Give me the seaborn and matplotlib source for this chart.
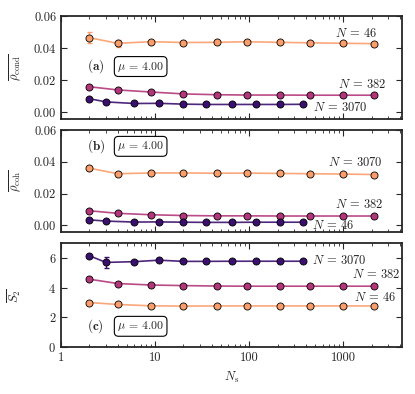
import matplotlib
matplotlib.use("Agg")
import matplotlib.pyplot as plt
import matplotlib.ticker as ticker
import seaborn as sns
import numpy as np
import pandas as pd

# Sample sizes (x) for each system size
NS_SMALL = [2, 4, 9, 20, 45, 95, 210, 445, 980, 2090]     # N = 46 and N = 382
NS_LARGE = [2, 3, 6, 11, 20, 35, 66, 118, 210, 376]       # N = 3070

# (a) mean rho_cond
COND_46 = [0.0465, 0.0430, 0.0440, 0.0435, 0.0436, 0.0440, 0.0436, 0.0433, 0.0430, 0.0428]
COND_382 = [0.0158, 0.0138, 0.0125, 0.0113, 0.0108, 0.0106, 0.0106, 0.0105, 0.0105, 0.0105]
COND_3070 = [0.0083, 0.0063, 0.0053, 0.0054, 0.0049, 0.0047, 0.0047, 0.0047, 0.0047, 0.0048]
COND_46_ERR = [0.0035, 0.0022, 0, 0, 0, 0, 0, 0, 0, 0]

# (b) mean rho_coh
COH_46 = [0.0035, 0.0027, 0.0021, 0.0022, 0.0020, 0.0019, 0.0019, 0.0020, 0.0020, 0.0020]
COH_382 = [0.0092, 0.0076, 0.0067, 0.0062, 0.0060, 0.0060, 0.0059, 0.0059, 0.0059, 0.0059]
COH_3070 = [0.0360, 0.0325, 0.0330, 0.0330, 0.0328, 0.0329, 0.0327, 0.0325, 0.0323, 0.0320]

# (c) mean S_2
S2_46 = [3.00, 2.87, 2.78, 2.76, 2.77, 2.77, 2.77, 2.77, 2.77, 2.77]
S2_382 = [4.57, 4.28, 4.18, 4.14, 4.11, 4.10, 4.10, 4.10, 4.10, 4.10]
S2_3070 = [6.15, 5.70, 5.75, 5.85, 5.77, 5.77, 5.78, 5.78, 5.78, 5.78]
S2_3070_ERR = [0, 0.35, 0, 0, 0, 0, 0, 0, 0, 0]

sns.set_style("ticks")
plt.rcParams["font.family"] = ["cmr10", "DejaVu Serif"]
plt.rcParams["mathtext.fontset"] = "cm"
plt.rcParams["axes.formatter.use_mathtext"] = True
plt.rcParams["font.size"] = 9

C_ORANGE = "#fc9e6b"
C_PINK = "#b3367b"
C_PURPLE = "#3b0f6f"

fig = plt.figure(figsize=(4.15, 3.94), dpi=100)
left, width = 0.147, 0.822
ax_a = fig.add_axes([left, 0.698, width, 0.261])
ax_b = fig.add_axes([left, 0.411, width, 0.259])
ax_c = fig.add_axes([left, 0.119, width, 0.264])


def draw(ax, x, y, color, err=None, zorder=3):
    df = pd.DataFrame({"x": x, "y": y})
    sns.lineplot(data=df, x="x", y="y", color=color, lw=1.2, alpha=0.9, ax=ax,
                 zorder=zorder, legend=False)
    sns.scatterplot(data=df, x="x", y="y", color=color, edgecolor="black",
                    linewidth=0.6, s=26, ax=ax, zorder=zorder + 1, legend=False)
    if err is not None:
        e = np.array(err)
        m = e > 0
        ax.errorbar(np.array(x)[m], np.array(y)[m], yerr=e[m], fmt="none",
                    ecolor=color, elinewidth=1, capsize=1.8, zorder=zorder)


# (a)
draw(ax_a, NS_SMALL, COND_46, C_ORANGE, COND_46_ERR)
draw(ax_a, NS_SMALL, COND_382, C_PINK)
draw(ax_a, NS_LARGE, COND_3070, C_PURPLE)
ax_a.set_ylim(-0.0044, 0.06)
ax_a.set_yticks([0.00, 0.02, 0.04, 0.06])
ax_a.yaxis.set_major_formatter(ticker.FormatStrFormatter("%.2f"))
ax_a.set_ylabel(r"$\overline{\rho_{\rm cond}}$")
ax_a.text(822, 0.0494, r"$N$ = 46", va="center", fontsize=9)
ax_a.text(885, 0.0169, r"$N$ = 382", va="center", fontsize=9)
ax_a.text(479, 0.0031, r"$N$ = 3070", va="center", fontsize=9)

# (b)
draw(ax_b, NS_SMALL, COH_3070, C_ORANGE)
draw(ax_b, NS_SMALL, COH_382, C_PINK)
draw(ax_b, NS_LARGE, COH_46, C_PURPLE)
ax_b.set_ylim(-0.0042, 0.06)
ax_b.set_yticks([0.00, 0.02, 0.04, 0.06])
ax_b.yaxis.set_major_formatter(ticker.FormatStrFormatter("%.2f"))
ax_b.set_ylabel(r"$\overline{\rho_{\rm coh}}$")
ax_b.text(692, 0.0397, r"$N$ = 3070", va="center", fontsize=9)
ax_b.text(822, 0.0129, r"$N$ = 382", va="center", fontsize=9)
ax_b.text(468, 0.0002, r"$N$ = 46", va="center", fontsize=9)

# (c)
draw(ax_c, NS_SMALL, S2_46, C_ORANGE)
draw(ax_c, NS_SMALL, S2_382, C_PINK)
draw(ax_c, NS_LARGE, S2_3070, C_PURPLE, S2_3070_ERR)
ax_c.set_ylim(0, 7)
ax_c.set_yticks([0, 2, 4, 6])
ax_c.set_ylabel(r"$\overline{S_2}$")
ax_c.set_xlabel(r"$N_{\rm s}$")
ax_c.text(468, 5.8, r"$N$ = 3070", va="center", fontsize=9)
ax_c.text(1247, 4.91, r"$N$ = 382", va="center", fontsize=9)
ax_c.text(1310, 3.36, r"$N$ = 46", va="center", fontsize=9)

box = dict(boxstyle="round,pad=0.25,rounding_size=0.35", fc="white", ec="black", lw=0.8)
for ax, lab, ypos in [(ax_a, "a", 0.51), (ax_b, "b", 0.84), (ax_c, "c", 0.20)]:
    ax.text(0.076, ypos, r"$\mathbf{(" + lab + ")}$", transform=ax.transAxes,
            va="center", fontsize=9.5)
    ax.text(0.165, ypos, r"$\mu$ = 4.00", transform=ax.transAxes, va="center",
            fontsize=8.5, bbox=box)

for ax in (ax_a, ax_b, ax_c):
    ax.set_xscale("log")
    ax.set_xlim(1, 4200)
    ax.tick_params(which="both", direction="in", top=True, right=True, labelsize=9)
    ax.tick_params(which="major", length=4)
    ax.tick_params(which="minor", length=2)
    ax.xaxis.set_major_locator(ticker.LogLocator(base=10, numticks=10))
    ax.xaxis.set_minor_locator(ticker.LogLocator(base=10, subs=np.arange(2, 10), numticks=20))
    ax.xaxis.set_minor_formatter(ticker.NullFormatter())
    for s in ax.spines.values():
        s.set_linewidth(1.3)
    if ax is not ax_c:
        ax.set_xlabel("")
        ax.tick_params(labelbottom=False)

ax_c.xaxis.set_major_formatter(ticker.FuncFormatter(lambda v, p: f"{v:g}"))
for ax in (ax_a, ax_b, ax_c):
    ax.yaxis.set_label_coords(-0.11, 0.5)

fig.savefig("out.png", dpi=100)
